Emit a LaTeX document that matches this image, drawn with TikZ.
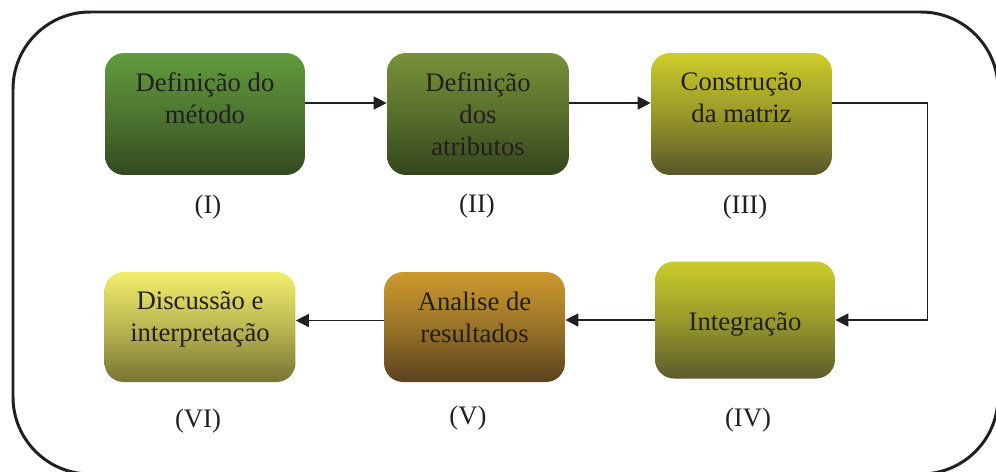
\documentclass[tikz,border=0pt]{standalone}
\usepackage{fontspec}
\setmainfont{Liberation Serif}
\usetikzlibrary{positioning,arrows.meta}
\definecolor{inkgray}{HTML}{231F20}
\definecolor{greenA}{HTML}{629B3E}\definecolor{greenAd}{HTML}{33491F}
\definecolor{greenB}{HTML}{779239}\definecolor{greenBd}{HTML}{33451D}
\definecolor{oliveC}{HTML}{CDCD2A}\definecolor{oliveCd}{HTML}{58572A}
\definecolor{oliveD}{HTML}{CACC2A}\definecolor{oliveDd}{HTML}{5C5C2D}
\definecolor{ochreE}{HTML}{CD9A2E}\definecolor{ochreEd}{HTML}{5A431F}
\definecolor{lemonF}{HTML}{F2EE6C}\definecolor{lemonFd}{HTML}{767433}
\tikzset{
  >={Triangle[length=2.6mm,width=2.6mm]},
  stepbox/.style={rounded corners=3.8mm,inner sep=0pt},
  boxfill/.style 2 args={top color=#1,bottom color=#2,middle color=#1!55!#2},
  boxtxt/.style={font=\fontsize{15.2}{18.3}\selectfont,text=inkgray,
    align=center,inner sep=0pt},
  steplbl/.style={font=\fontsize{15.2}{18}\selectfont,text=inkgray,inner sep=0pt},
  flow/.style={->,line width=0.85pt,draw=inkgray},
  outerframe/.style={line width=1.7pt,draw=inkgray,rounded corners=15.4mm},
}
\begin{document}
\begin{tikzpicture}[x=0.02cm,y=-0.02cm]
  \useasboundingbox (0,0) rectangle (996,471);
  \clip (0,0) rectangle (996,471);
  \draw[outerframe] (13,12) rectangle (998,474);
  % upper row
  \node[stepbox,boxfill={greenA}{greenAd},minimum width=4cm,minimum height=2.44cm] (b1) at (205,114) {};
  \node[stepbox,boxfill={greenB}{greenBd},minimum width=3.64cm,minimum height=2.44cm] (b2) at (478,114) {};
  \node[stepbox,boxfill={oliveC}{oliveCd},minimum width=3.62cm,minimum height=2.44cm] (b3) at (741.5,114) {};
  % lower row
  \node[stepbox,boxfill={oliveD}{oliveDd},minimum width=3.6cm,minimum height=2.34cm] (b4) at (745,320) {};
  \node[stepbox,boxfill={ochreE}{ochreEd},minimum width=3.62cm,minimum height=2.2cm] (b5) at (474.5,327) {};
  \node[stepbox,boxfill={lemonF}{lemonFd},minimum width=3.82cm,minimum height=2.2cm] (b6) at (200,327) {};
  % box texts
  \node[boxtxt,below=0.39cm of b1.north] (t1) {Definição do\\método};
  \node[boxtxt,below=0.39cm of b2.north] (t2) {Definição\\dos\\atributos};
  \node[boxtxt,below=0.39cm of b3.north] (t3) {Construção\\da matriz};
  \node[boxtxt,below=1.02cm of b4.north] (t4) {Integração};
  \node[boxtxt,below=0.39cm of b5.north] (t5) {Analise de\\resultados};
  \node[boxtxt,below=0.39cm of b6.north] (t6) {Discussão e\\interpretação};
  % step numbers
  \node[steplbl] (n1) at (208,207) {(I)};
  \node[steplbl] (n2) at (477,206) {(II)};
  \node[steplbl] (n3) at (745,207) {(III)};
  \node[steplbl] (n4) at (748,420) {(IV)};
  \node[steplbl] (n5) at (468,418) {(V)};
  \node[steplbl] (n6) at (198,421) {(VI)};
  % connectors
  \draw[flow] ([yshift=0.22cm]b1.east) -- ([yshift=0.22cm]b2.west);
  \draw[flow] ([yshift=0.22cm]b2.east) -- ([yshift=0.22cm]b3.west);
  \draw[flow] ([yshift=0.22cm]b3.east) -- ++(1.9cm,0) |- (b4.east);
  \draw[flow] (b4.west) -- (b4.west -| b5.east);
  \draw[flow] ([yshift=0.13cm]b5.west) -- ([yshift=0.13cm]b6.east);
\end{tikzpicture}
\end{document}
